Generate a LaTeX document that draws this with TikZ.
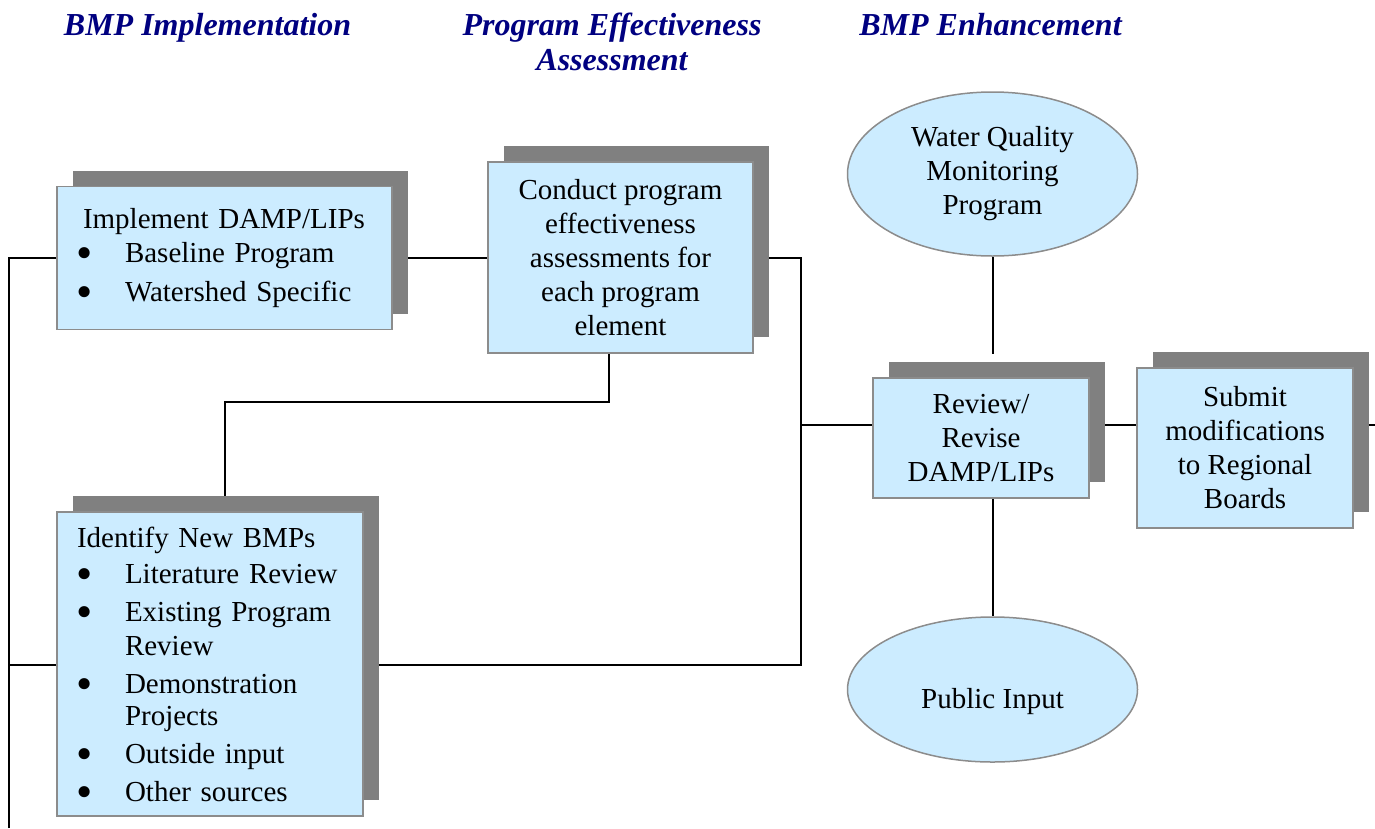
\documentclass[tikz,border=0pt]{standalone}
\usepackage{fontspec}
\usepackage{graphicx}
\setmainfont{Liberation Serif}
\usetikzlibrary{shapes.geometric,shadows}
\pgfdeclarelayer{background}
\pgfsetlayers{background,main}
\definecolor{boxfill}{HTML}{CCECFF}
\definecolor{boxline}{HTML}{8C8C8C}
\definecolor{shade}{HTML}{808080}
\definecolor{navy}{HTML}{000080}
% bullet column and hanging indent for wrapped list items
\newcommand\blt{\makebox[48pt][l]{\hspace{-1pt}\raisebox{-6.5pt}[0pt][0pt]{\scalebox{1.6}{\textbullet}}}}
\newcommand\cont{\hspace*{48pt}}

\begin{document}
\begin{tikzpicture}[x=1pt,y=-1pt,
  boxtext/.style={font=\fontsize{29}{34}\selectfont},
  panel/.style={rectangle, draw=boxline, line width=1.5pt, fill=boxfill,
    inner sep=0pt, boxtext,
    drop shadow={shadow xshift=16pt, shadow yshift=16pt, fill=shade, opacity=1}},
  oval/.style={ellipse, draw=boxline, line width=1.5pt, fill=boxfill,
    inner sep=0pt, boxtext, align=center},
  heading/.style={font=\fontsize{32}{35}\selectfont\bfseries\itshape,
    text=navy, align=center, inner sep=0pt},
  link/.style={line width=2.2pt, black}]

\useasboundingbox (0,0) rectangle (1375,828);

% column headings
\node[heading, anchor=base] (h1) at (207.5,35) {BMP Implementation};
\node[heading, anchor=base] (h2) at (612,70) {Program Effectiveness\\Assessment};
\node[heading, anchor=base] (h3) at (990.5,35) {BMP Enhancement};

% process boxes
\node[panel, minimum width=335pt, minimum height=143pt, text width=295pt,
      inner xsep=20pt, align=left] (impl) at (224.5,258)
  {\hspace*{6pt}Implement DAMP/LIPs\\
   \blt Baseline Program\\[5pt]
   \blt Watershed Specific};

\node[panel, minimum width=265pt, minimum height=191pt, align=center]
  (conduct) at (620.5,257.5)
  {Conduct program\\effectiveness\\assessments for\\each program\\element};

\node[panel, minimum width=306pt, minimum height=304pt, text width=266pt,
      inner xsep=20pt, align=left] (ident) at (210,664)
  {Identify New BMPs\\[2pt]
   \blt Literature Review\\[4pt]
   \blt Existing Program\\
   \cont Review\\[4pt]
   \blt Demonstration\\[-2pt]
   \cont Projects\\[4pt]
   \blt Outside input\\[4pt]
   \blt Other sources};

\node[panel, minimum width=216pt, minimum height=120pt, align=center]
  (review) at (981,438) {Review/\\Revise\\DAMP/LIPs};

\node[panel, minimum width=216pt, minimum height=160pt, align=center]
  (submit) at (1245,448) {Submit\\modifications\\to Regional\\Boards};

% inputs
\node[oval, minimum width=290pt, minimum height=164pt] (wq) at (992.5,174)
  {Water Quality\\Monitoring\\Program};
\node[oval, minimum width=290pt, minimum height=145pt] (pub) at (992.5,689.5)
  {\raisebox{-12pt}[\height][\depth]{Public Input}};

% junction points of the connector network
\coordinate (lefttop) at (9,258);
\coordinate (leftmid) at (9,665);
\coordinate (leftbot) at (9,828);
\coordinate (busN) at (801,258);
\coordinate (busR) at (801,425);
\coordinate (busS) at (801,665);
\coordinate (elbowA) at (609,402);
\coordinate (elbowB) at (225,402);
\coordinate (wqend) at (993,354);
\coordinate (rightend) at (1375,425);

\begin{pgfonlayer}{background}
  \draw[link] (leftbot) -- (lefttop) -- (lefttop -| impl.west);
  \draw[link] (leftmid) -- (leftmid -| ident.west);
  \draw[link] (impl.east) -- (impl.east -| conduct.west);
  \draw[link] (busN -| conduct.east) -- (busN) -- (busS) -- (busS -| ident.east);
  \draw[link] (elbowA |- conduct.south) -- (elbowA) -- (elbowB) -- (elbowB |- ident.north);
  \draw[link] (busR) -- (busR -| review.west);
  \draw[link] (busR -| review.east) -- (busR -| submit.west);
  \draw[link] (rightend -| submit.east) -- (rightend);
  \draw[link] (wqend |- wq.south) -- (wqend);
  \draw[link] (wqend |- review.south) -- (wqend |- pub.north);
\end{pgfonlayer}
\end{tikzpicture}
\end{document}
